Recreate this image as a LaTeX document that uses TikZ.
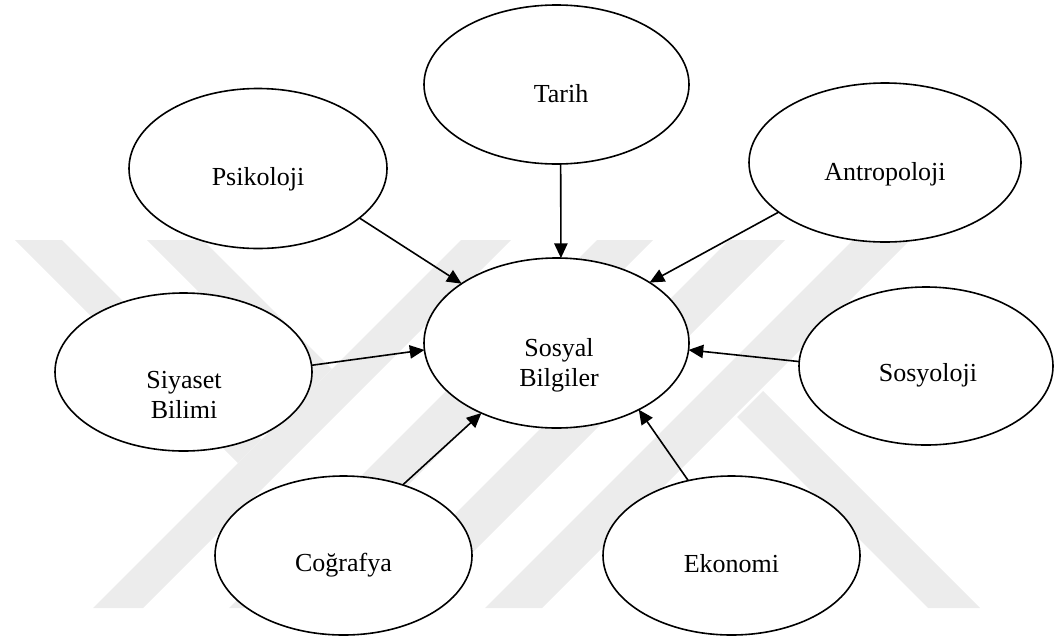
\documentclass[tikz,border=0pt]{standalone}
\usepackage{fontspec}
\setmainfont{Liberation Serif}
\usetikzlibrary{shapes.geometric,arrows.meta}
\definecolor{wm}{RGB}{236,236,236}
\tikzset{
  bubble/.style={ellipse,draw=black,fill=white,line width=1.2pt,inner sep=0pt,outer sep=0pt},
  lbl/.style={anchor=base,inner sep=0pt,font=\fontsize{19.5}{22.5}\selectfont},
  feed/.style={line width=1.2pt,-{Triangle[length=11pt,width=10pt]}},
  band/.style={fill=wm,draw=none}
}
\begin{document}
\begin{tikzpicture}[x=0.75pt,y=-0.75pt]
\useasboundingbox (0,0) rectangle (1062,636);
% watermark
\fill[band] (15,240) -- (62,240) -- (261.5,439.5) -- (238,463) -- cycle;
\fill[band] (147,240) -- (203,240) -- (332,369) -- (304,397) -- cycle;
\fill[band] (93,608) -- (143,608) -- (511,240) -- (461,240) -- cycle;
\fill[band] (229,608) -- (285,608) -- (653,240) -- (597,240) -- cycle;
\fill[band] (361,608) -- (417,608) -- (785,240) -- (729,240) -- cycle;
\fill[band] (485,608) -- (542,608) -- (910,240) -- (853,240) -- cycle;
\fill[band] (928,608) -- (980,608) -- (763,391) -- (737,417) -- cycle;
% ellipses
\node[bubble,minimum width=198.75pt,minimum height=119.25pt] (t) at (556.5,84.5) {};
\node[bubble,minimum width=193.5pt,minimum height=120pt] (p) at (258,168.5) {};
\node[bubble,minimum width=204pt,minimum height=119.25pt] (a) at (885,162.5) {};
\node[bubble,minimum width=198.75pt,minimum height=127.5pt] (sb) at (556.5,343) {};
\node[bubble,minimum width=192.75pt,minimum height=118.5pt] (sy) at (183.5,372) {};
\node[bubble,minimum width=190.5pt,minimum height=118.5pt] (so) at (926,366) {};
\node[bubble,minimum width=192.75pt,minimum height=119.25pt] (c) at (343.5,555.5) {};
\node[bubble,minimum width=192.75pt,minimum height=119.25pt] (e) at (731.5,555.5) {};
% labels
\node[lbl] (tT) at (561,102) {Tarih};
\node[lbl] (tP) at (258,185) {Psikoloji};
\node[lbl] (tA) at (885,180) {Antropoloji};
\node[lbl] (tS1) at (559,356) {Sosyal};
\node[lbl] (tS2) at (559,386) {Bilgiler};
\node[lbl] (tY1) at (184,388) {Siyaset};
\node[lbl] (tY2) at (184,418) {Bilimi};
\node[lbl] (tO) at (928,381) {Sosyoloji};
\node[lbl] (tC) at (343.5,571) {Coğrafya};
\node[lbl] (tE) at (731.5,572) {Ekonomi};
% connectors
\draw[feed] (t.-87.5) -- (sb.87.6);
\draw[feed] (p.-26.1) -- (sb.148.2);
\draw[feed] (a.205.3) -- (sb.33.7);
\draw[feed] (sy.3.6) -- (sb.183);
\draw[feed] (so.178.6) -- (sb.-3);
\draw[feed] (c.50.2) -- (sb.223.6);
\draw[feed] (e.120.3) -- (sb.-39.5);
\end{tikzpicture}
\end{document}
